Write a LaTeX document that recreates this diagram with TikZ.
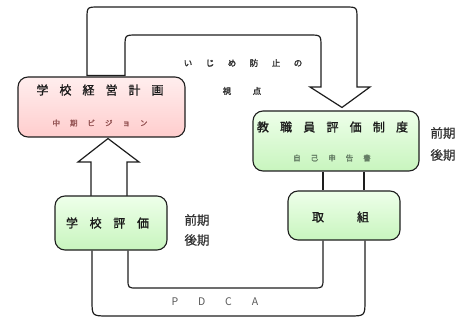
\documentclass[tikz,border=0pt]{standalone}
\usepackage{fontspec}
\setmainfont{Noto Sans CJK JP}
\newfontfamily\jpbold[FakeBold=1.2]{Noto Sans CJK JP}
\newfontfamily\jpmid[FakeBold=2.0]{Noto Sans CJK JP}
\newfontfamily\jpside[FakeBold=0.8]{Noto Sans CJK JP}
\usetikzlibrary{calc,backgrounds}
\definecolor{pinkA}{RGB}{255,238,238}
\definecolor{pinkB}{RGB}{255,205,205}
\definecolor{greenA}{RGB}{238,255,234}
\definecolor{greenB}{RGB}{200,245,190}
\definecolor{subred}{RGB}{150,85,85}
\definecolor{subgreen}{RGB}{100,125,100}
\definecolor{txtgray}{RGB}{50,50,50}
\definecolor{linecol}{RGB}{30,30,30}
\begin{document}
\begin{tikzpicture}[x=1pt,y=-1pt,
  box/.style={draw=linecol, line width=1.1pt, rounded corners=10pt, inner sep=0pt},
  pinkbox/.style={box, top color=pinkA, bottom color=pinkB},
  greenbox/.style={box, top color=greenA, bottom color=greenB},
  blockline/.style={draw=linecol, line width=1.2pt, line join=miter},
  big/.style={inner sep=0pt, font=\jpbold\fontsize{12}{12}\selectfont, text=black!90},
  small/.style={inner sep=0pt, font=\jpmid\fontsize{7.5}{8}\selectfont},
  mid/.style={inner sep=0pt, font=\jpmid\fontsize{8.5}{9}\selectfont, text=txtgray},
  side/.style={inner sep=0pt, font=\jpside\fontsize{12.5}{13}\selectfont, text=txtgray},
  pdca/.style={inner sep=0pt, font=\fontsize{10.5}{11}\selectfont, text=black!65}
]
\useasboundingbox (0,0) rectangle (473,320);

% boxes
\node[pinkbox, minimum width=167pt, minimum height=60pt] (plan) at (101.5,107) {};
\node[greenbox, minimum width=166pt, minimum height=60pt] (staff) at (336,141) {};
\node[greenbox, minimum width=112pt, minimum height=49pt] (act) at (344,215.5) {};
\node[greenbox, minimum width=112pt, minimum height=54pt] (seval) at (111,223) {};

% box texts
\node[big] (planT) at (100,90) {学\hspace{11pt}校\hspace{11pt}経\hspace{11pt}営\hspace{11pt}計\hspace{11pt}画};
\node[small, text=subred] (planS) at (100,123) {中\hspace{10pt}期\hspace{10pt}ビ\hspace{10pt}ジ\hspace{10pt}ョ\hspace{10pt}ン};
\node[big] (staffT) at (332.5,127) {教\hspace{11.2pt}職\hspace{11.2pt}員\hspace{11.2pt}評\hspace{11.2pt}価\hspace{11.2pt}制\hspace{11.2pt}度};
\node[small, text=subgreen] (staffS) at (332,158) {自\hspace{10pt}己\hspace{10pt}申\hspace{10pt}告\hspace{10pt}書};
\node[big] (actT) at (340.5,217) {取\hspace{33pt}組};
\node[big] (sevalT) at (107.5,223) {学\hspace{11.7pt}校\hspace{11.7pt}評\hspace{11.7pt}価};

% side labels
\node[side] (s1a) at (443,133) {前期};
\node[side] (s1b) at (443,155) {後期};
\node[side] (s2a) at (197,220) {前期};
\node[side] (s2b) at (197,240) {後期};

% middle labels
\node[mid] (ijime) at (243,63) {い\hspace{13.5pt}じ\hspace{13.5pt}め\hspace{13.5pt}防\hspace{13.5pt}止\hspace{13.5pt}の};
\node[mid] (shiten) at (242,91) {視\hspace{21.5pt}点};
\node[pdca] (pdcaT) at (215,302) {\makebox[26.7pt]{P}\makebox[26.7pt]{D}\makebox[26.7pt]{C}\makebox[26.7pt]{A}};

\begin{scope}[on background layer]
  % top U-turn block arrow from plan to staff
  \draw[blockline, fill=white] ($(plan.north)+(-14.5,-1)$) -- (87,19) .. controls (87,7) .. (99,7)
    -- (345,7) .. controls (357,7) .. (357,19) -- (357,87) -- (370,87)
    -- ($(staff.north)+(6,-3)$) -- (310,87) -- (321,87) -- (321,47)
    .. controls (321,35) .. (309,35) -- (137,35) .. controls (125,35) .. (125,47)
    -- ($(plan.north)+(23.5,-1)$) -- cycle;
  % upward block arrow from school evaluation to plan
  \draw[blockline, fill=white] ($(seval.north)+(-20,1)$) -- (91,162) -- (78,162)
    -- ($(plan.south)+(6.5,1)$) -- (139,162) -- (127,162) -- ($(seval.north)+(16,1)$);
\end{scope}

% channel between staff and act
\draw[blockline] ($(staff.south)+(-13,0)$) -- ($(act.north)+(-21,0)$);
\draw[blockline] ($(staff.south)+(28,0)$) -- ($(act.north)+(20,0)$);

% lower PDCA loop
\draw[blockline] ($(seval.south)+(-19,0)$) -- (92,300) .. controls (92,316) .. (108,316)
  -- (349,316) .. controls (365,316) .. (365,300) -- ($(act.south)+(21,0)$);
\draw[blockline] ($(seval.south)+(17,0)$) -- (128,279) .. controls (128,288) .. (137,288)
  -- (313,288) .. controls (323,288) .. (323,278) -- ($(act.south)+(-21,0)$);
\end{tikzpicture}
\end{document}
